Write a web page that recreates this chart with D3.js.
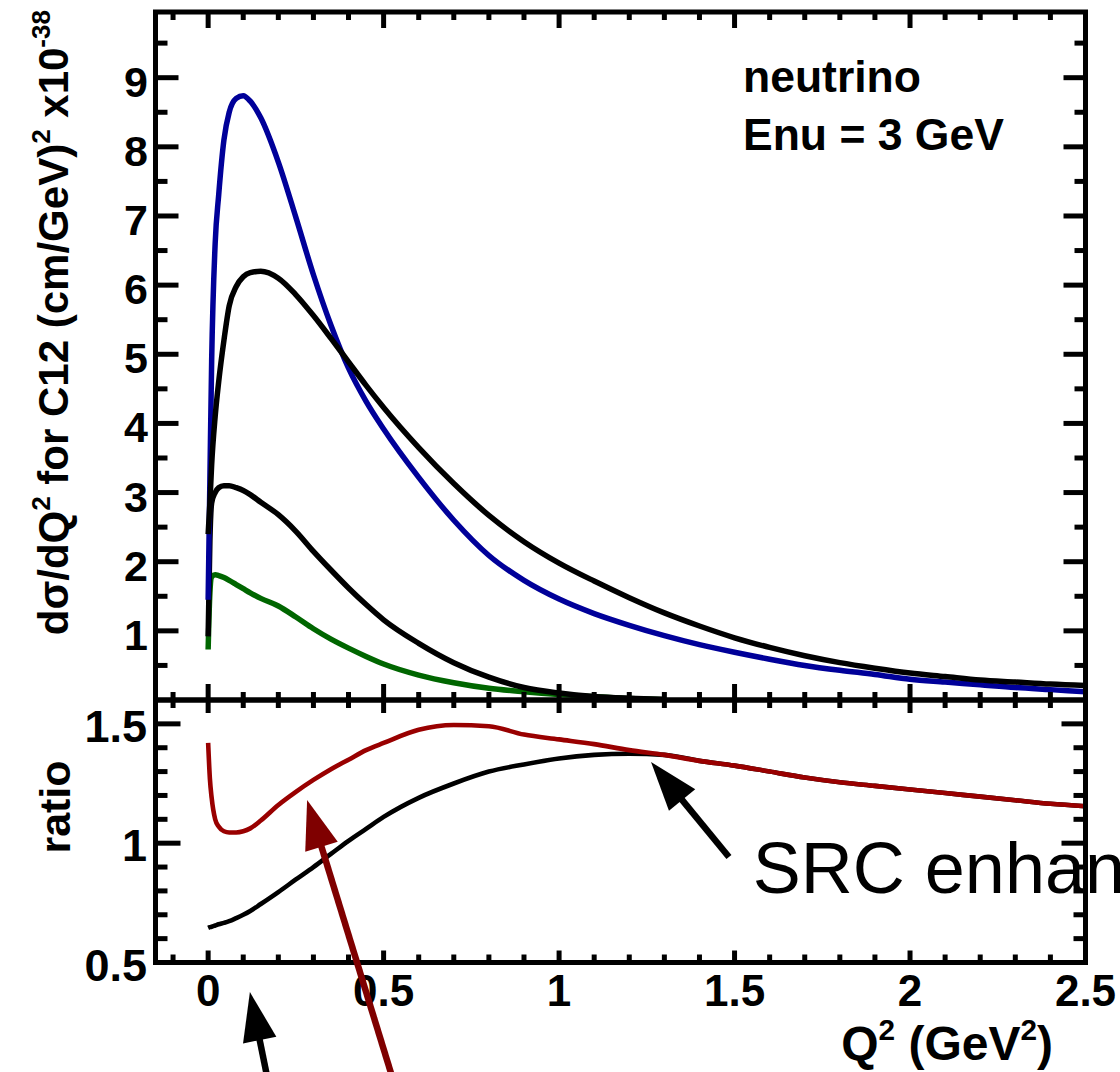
<!DOCTYPE html>
<html><head><meta charset="utf-8">
<script src="https://cdn.jsdelivr.net/npm/d3@7"></script>
<style>html,body{margin:0;padding:0;background:#fff;} svg{display:block;}</style>
</head><body><svg id="c" width="1120" height="1072"></svg>
<script>
// ---------------- data ----------------
const q2 = [0,0.005,0.01,0.02,0.03,0.045,0.06,0.08,0.10,0.12,0.15,0.2,0.25,0.3,0.35,0.4,0.45,0.5,0.6,0.7,0.8,0.9,1.0,1.1,1.2,1.3,1.4,1.5,1.6,1.7,1.8,1.9,2.0,2.1,2.2,2.3,2.4,2.5];
const blueXsec = [1.45,3.2,4.9,6.6,7.3,8.1,8.5,8.7,8.74,8.66,8.42,7.78,6.98,6.15,5.42,4.8,4.32,3.92,3.22,2.6,2.09,1.73,1.46,1.25,1.08,0.93,0.8,0.69,0.59,0.5,0.43,0.37,0.30,0.26,0.22,0.18,0.15,0.12];
const blackXsecHigh = [2.4,2.85,3.4,4.1,4.6,5.2,5.7,5.98,6.12,6.18,6.2,6.1,5.86,5.56,5.23,4.89,4.55,4.23,3.65,3.13,2.67,2.29,1.98,1.72,1.48,1.26,1.07,0.9,0.76,0.64,0.54,0.46,0.39,0.34,0.29,0.26,0.23,0.21];
const blackXsecLow = [0.92,2.3,2.85,3.0,3.07,3.1,3.1,3.07,3.03,2.97,2.86,2.68,2.44,2.15,1.88,1.62,1.38,1.16,0.82,0.54,0.33,0.18,0.1,0.05,0.025,0.01,null,null,null,null,null,null,null,null,null,null,null,null];
const greenXsec = [0.73,1.55,1.78,1.81,1.8,1.77,1.73,1.67,1.61,1.55,1.47,1.36,1.2,1.03,0.88,0.75,0.63,0.52,0.36,0.25,0.17,0.12,0.08,0.05,0.02,0.005,null,null,null,null,null,null,null,null,null,null,null,null];
const redRatio = [1.42,1.27,1.19,1.1,1.07,1.05,1.045,1.045,1.05,1.062,1.095,1.16,1.215,1.265,1.31,1.35,1.39,1.42,1.475,1.495,1.49,1.455,1.435,1.415,1.39,1.37,1.345,1.325,1.3,1.275,1.255,1.24,1.225,1.21,1.195,1.18,1.165,1.155];
const blackRatio = [0.645,0.648,0.65,0.655,0.66,0.666,0.673,0.686,0.7,0.716,0.745,0.795,0.848,0.9,0.955,1.01,1.06,1.11,1.19,1.25,1.3,1.33,1.355,1.37,1.375,1.37,1.345,1.325,1.3,1.275,1.255,1.24,1.225,1.21,1.195,1.18,1.165,1.155];

const xTickLabels = ["0","0.5","1","1.5","2","2.5"];
const yTopTickLabels = ["1","2","3","4","5","6","7","8","9"];
const yRatioTickLabels = ["0.5","1","1.5"];

// annotation arrows in (Q2, ratio) coordinates: tail -> tip
const arrowsData = [
  {x1:1.484, y1:0.942, x2:1.262, y2:1.340, color:"#000000"},
  {x1:0.527, y1:0.008, x2:0.282, y2:1.181, color:"#7f0000"},
  {x1:0.170, y1:0.008, x2:0.119, y2:0.376, color:"#000000"}
];
const srcLabel = {x:1.552, y:0.79, text:"SRC enhancement"};

// ---------------- layout ----------------
const FONT = "'Liberation Sans', Arial, Helvetica, sans-serif";
const svg = d3.select("#c");
const L = 155.5, R = 1085.5, T = 12, M = 700, B = 962.5;

const x = d3.scaleLinear().domain([-0.15, 2.5]).range([L, R]);
const yTop = d3.scaleLinear().domain([0, 9.95]).range([M, T]);
const yLow = d3.scaleLinear().domain([0.5, 1.6]).range([B, M]);

const defs = svg.append("defs");
defs.append("clipPath").attr("id","clipTop").append("rect").attr("x",L).attr("y",T).attr("width",R-L).attr("height",M-T);
defs.append("clipPath").attr("id","clipLow").append("rect").attr("x",L).attr("y",M).attr("width",R-L).attr("height",B-M);

// ---------------- curves ----------------
function drawCurve(clip, ys, vals, color, w) {
  const pts = q2.map((q,i)=>({q, v: vals[i]}));
  const line = d3.line().defined(d=>d.v!=null).x(d=>x(d.q)).y(d=>ys(d.v)).curve(d3.curveMonotoneX);
  svg.append("path").attr("clip-path",`url(#${clip})`).attr("d", line(pts))
    .attr("fill","none").attr("stroke",color).attr("stroke-width",w)
    .attr("stroke-linejoin","round").attr("stroke-linecap","butt");
}
drawCurve("clipTop", yTop, greenXsec, "#006600", 5.5);
drawCurve("clipTop", yTop, blackXsecLow, "#000000", 5.5);
drawCurve("clipTop", yTop, blueXsec, "#000099", 5.5);
drawCurve("clipTop", yTop, blackXsecHigh, "#000000", 5.5);
drawCurve("clipLow", yLow, blackRatio, "#000000", 4.6);
drawCurve("clipLow", yLow, redRatio, "#990000", 4.6);

// ---------------- frames & ticks ----------------
const axG = svg.append("g").attr("stroke","#000").attr("stroke-width",5).attr("fill","none");
axG.append("rect").attr("x",L).attr("y",T).attr("width",R-L).attr("height",M-T);
axG.append("rect").attr("x",L).attr("y",M).attr("width",R-L).attr("height",B-M);

const tickG = svg.append("g").attr("stroke","#000").attr("stroke-width",5);
function vTicks(vals, ys, x0, dir, lenMaj, lenMin, isMaj) {
  vals.forEach(v => {
    const len = isMaj(v) ? lenMaj : lenMin;
    tickG.append("line").attr("x1",x0).attr("x2",x0+dir*len).attr("y1",ys(v)).attr("y2",ys(v));
  });
}
function hTicks(vals, y0, dir, lenMaj, lenMin, isMaj) {
  vals.forEach(v => {
    const len = isMaj(v) ? lenMaj : lenMin;
    tickG.append("line").attr("y1",y0).attr("y2",y0+dir*len).attr("x1",x(v)).attr("x2",x(v));
  });
}
const near = (a,b)=>Math.abs(a-b)<1e-6;
const xTickVals = d3.range(-1, 26).map(i=>i/10);
const xMaj = v => near(v*2, Math.round(v*2));
// top panel
const yTopVals = d3.range(1, 20).map(i=>i/2);
const yTopMaj = v => near(v, Math.round(v));
vTicks(yTopVals, yTop, L, 1, 23, 12, yTopMaj);
vTicks(yTopVals, yTop, R, -1, 22, 11, yTopMaj);
hTicks(xTickVals, T, 1, 16, 8, xMaj);
hTicks(xTickVals, M, -1, 16, 8, xMaj);
// lower panel
const yLowVals = d3.range(6, 16).map(i=>i/10);
const yLowMaj = v => near(v*2, Math.round(v*2));
vTicks(yLowVals, yLow, L, 1, 25, 12, yLowMaj);
vTicks(yLowVals, yLow, R, -1, 24, 12, yLowMaj);
hTicks(xTickVals, M, 1, 13, 8, xMaj);
hTicks(xTickVals, B, -1, 12, 8, xMaj);

// ---------------- tick labels ----------------
const lab = svg.append("g").attr("font-family",FONT).attr("font-weight","bold").attr("fill","#000");
yTopTickLabels.forEach(t => {
  lab.append("text").attr("x",148).attr("y",yTop(+t)+19).attr("text-anchor","end").attr("font-size",43).text(t);
});
yRatioTickLabels.forEach(t => {
  lab.append("text").attr("x",147).attr("y",yLow(+t)+18).attr("text-anchor","end").attr("font-size",45).text(t);
});
xTickLabels.forEach(t => {
  lab.append("text").attr("x",x(+t)).attr("y",1006).attr("text-anchor","middle").attr("font-size",44).text(t);
});

// rich text helper (superscripts)
function rich(textSel, parts, fs) {
  let shifted = 0;
  parts.forEach(p => {
    const ts = textSel.append("tspan").text(p.t);
    if (p.sup) {
      const target = -fs*0.42;
      ts.attr("font-size", fs*0.62).attr("dy", target - shifted);
      shifted = target;
    } else {
      if (shifted) ts.attr("dy", -shifted);
      shifted = 0;
    }
  });
}

// y title (top)
const yt = lab.append("text").attr("transform","translate(68,10) rotate(-90)").attr("text-anchor","end").attr("font-size",42);
rich(yt, [{t:"dσ/dQ"},{t:"2",sup:true},{t:" for C12 (cm/GeV)"},{t:"2",sup:true},{t:" x10"},{t:"-38",sup:true}], 42);
// y title (ratio)
lab.append("text").attr("transform","translate(70,807) rotate(-90)").attr("text-anchor","middle").attr("font-size",43).text("ratio");
// x title
const xt = lab.append("text").attr("x",1053).attr("y",1060).attr("text-anchor","end").attr("font-size",48);
rich(xt, [{t:"Q"},{t:"2",sup:true},{t:" (GeV"},{t:"2",sup:true},{t:")"}], 48);

// info text
lab.append("text").attr("x",743).attr("y",92).attr("font-size",44.5).text("neutrino");
lab.append("text").attr("x",743).attr("y",150).attr("font-size",44.5).text("Enu = 3 GeV");

// ---------------- annotations ----------------
function arrow(d) {
  const tx = x(d.x1), ty = yLow(d.y1), hx = x(d.x2), hy = yLow(d.y2);
  const dx = hx-tx, dy = hy-ty, len = Math.hypot(dx,dy);
  const ux = dx/len, uy = dy/len, px = -uy, py = ux;
  const hl = 49, hw = 17;
  const bx = hx - ux*hl, by = hy - uy*hl;
  svg.append("line").attr("x1",tx).attr("y1",ty).attr("x2",bx+ux*4).attr("y2",by+uy*4)
    .attr("stroke",d.color).attr("stroke-width",6.5);
  svg.append("polygon").attr("points",[[hx,hy],[bx+px*hw,by+py*hw],[bx-px*hw,by-py*hw]].map(p=>p.join(",")).join(" "))
    .attr("fill",d.color);
}
arrowsData.forEach(arrow);
svg.append("text").attr("x",x(srcLabel.x)).attr("y",yLow(srcLabel.y)).attr("font-family",FONT)
  .attr("font-size",72).attr("fill","#000").text(srcLabel.text);
</script>
</body></html>
